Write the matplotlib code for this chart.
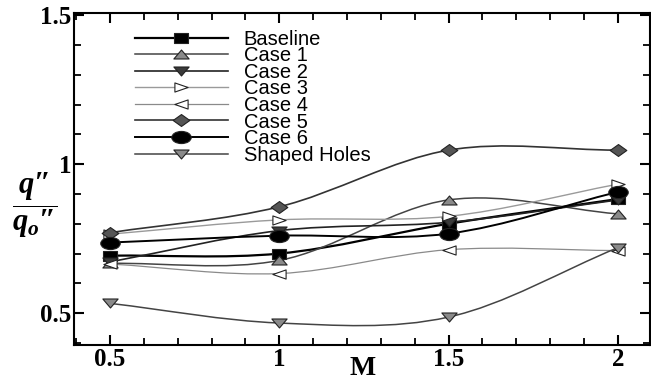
import numpy as np
import matplotlib
matplotlib.use("Agg")
import matplotlib.pyplot as plt
from matplotlib.path import Path
from matplotlib.patches import PathPatch
from matplotlib.lines import Line2D
from matplotlib.ticker import MultipleLocator

# data
M_vals = [0.5, 1.0, 1.5, 2.0]
baseline = [0.693, 0.700, 0.800, 0.883]
case1 = [0.667, 0.677, 0.880, 0.833]
case2 = [0.672, 0.777, 0.805, 0.880]
case3 = [0.765, 0.813, 0.825, 0.933]
case4 = [0.665, 0.633, 0.713, 0.710]
case5 = [0.770, 0.857, 1.047, 1.047]
case6 = [0.737, 0.760, 0.767, 0.907]
shaped = [0.533, 0.467, 0.487, 0.720]

labels = ["Baseline", "Case 1", "Case 2", "Case 3", "Case 4",
          "Case 5", "Case 6", "Shaped Holes"]
xticks = [0.5, 1, 1.5, 2]
xtick_labels = ["0.5", "1", "1.5", "2"]
yticks = [0.5, 1, 1.5]
ytick_labels = ["0.5", "1", "1.5"]

plt.rcParams['mathtext.fontset'] = 'custom'
plt.rcParams['mathtext.rm'] = 'Liberation Serif:bold'
plt.rcParams['mathtext.it'] = 'Liberation Serif:italic:bold'
plt.rcParams['mathtext.bf'] = 'Liberation Serif:bold'


# markers are a bit wider than tall in the reference
def mk(verts):
    verts = np.asarray(verts, float)
    codes = [Path.MOVETO] + [Path.LINETO] * (len(verts) - 1) + [Path.CLOSEPOLY]
    return Path(np.vstack([verts, verts[:1]]), codes)

sq = mk([(-1.3, -1), (1.3, -1), (1.3, 1), (-1.3, 1)])
tri_up = mk([(0, 1), (-1.7, -1), (1.7, -1)])
tri_dn = mk([(0, -1), (-1.7, 1), (1.7, 1)])
tri_r = mk([(1.3, 0), (-1.3, 0.9), (-1.3, -0.9)])
tri_l = mk([(-1.3, 0), (1.3, 0.9), (1.3, -0.9)])
dia = mk([(0, 1), (1.4, 0), (0, -1), (-1.4, 0)])
circ = Path(Path.unit_circle().vertices * [1.6, 1.0], Path.unit_circle().codes)

series = [baseline, case1, case2, case3, case4, case5, case6, shaped]
# (line color, line width, marker, marker size, face color)
styles = [
    ("#000000", 1.6, sq, 9.5, "#000000"),
    ("#444444", 1.1, tri_up, 11, "#8a8a8a"),
    ("#222222", 1.2, tri_dn, 11, "#3a3a3a"),
    ("#9a9a9a", 1.0, tri_r, 9.5, "#ffffff"),
    ("#8a8a8a", 0.9, tri_l, 9.5, "#ffffff"),
    ("#333333", 1.2, dia, 12, "#555555"),
    ("#000000", 1.4, circ, 14, "#000000"),
    ("#444444", 1.1, tri_dn, 11, "#8a8a8a"),
]


def smooth_path(x, y):
    # Catmull-Rom style curve through the points, as bezier segments
    x = np.asarray(x, float)
    y = np.asarray(y, float)
    n = len(x)
    d = np.zeros(n)
    d[0] = (y[1] - y[0]) / (x[1] - x[0])
    d[-1] = (y[-1] - y[-2]) / (x[-1] - x[-2])
    for i in range(1, n - 1):
        d[i] = (y[i + 1] - y[i - 1]) / (x[i + 1] - x[i - 1])
    verts = [(x[0], y[0])]
    codes = [Path.MOVETO]
    for i in range(n - 1):
        h = x[i + 1] - x[i]
        verts += [(x[i] + h / 3, y[i] + d[i] * h / 3),
                  (x[i + 1] - h / 3, y[i + 1] - d[i + 1] * h / 3),
                  (x[i + 1], y[i + 1])]
        codes += [Path.CURVE4] * 3
    return Path(verts, codes)


fig = plt.figure(figsize=(6.51, 3.83), dpi=100)
ax = fig.add_axes([0.1137, 0.099, 0.885, 0.867])

handles = []
for k, (vals, st) in enumerate(zip(series, styles)):
    col, lw, m, ms, fc = st
    ax.add_patch(PathPatch(smooth_path(M_vals, vals), fill=False,
                           edgecolor=col, lw=lw, zorder=2 + k * 0.01))
    ax.plot(M_vals, vals, ls="none", marker=m, ms=ms, mfc=fc,
            mec="#222222", mew=0.8, zorder=3 + k * 0.01)
    handles.append(Line2D([], [], color=col, lw=lw, marker=m, ms=ms,
                          mfc=fc, mec="#222222", mew=0.8))

ax.set_xlim(0.394, 2.095)
ax.set_ylim(0.393, 1.507)

ax.set_xticks(xticks)
ax.set_xticklabels(xtick_labels)
ax.set_yticks(yticks)
ax.set_yticklabels(ytick_labels)
ax.xaxis.set_minor_locator(MultipleLocator(0.1))
ax.yaxis.set_minor_locator(MultipleLocator(0.1))
ax.tick_params(which="both", direction="in", top=True, right=True, color="black")
ax.tick_params(which="major", length=7.5, width=1.5, pad=2)
ax.tick_params(which="minor", length=5, width=1.3)
for lab in ax.get_xticklabels() + ax.get_yticklabels():
    lab.set_fontfamily("Liberation Serif")
    lab.set_fontweight("bold")
    lab.set_fontsize(18)
for sp in ax.spines.values():
    sp.set_linewidth(1.5)

ax.set_xlabel("M", fontfamily="Liberation Serif", fontweight="bold",
              fontsize=20, labelpad=-11)
ax.set_ylabel(r"$\dfrac{q″}{q_o″}$", fontsize=22, rotation=0,
              va="center", ha="center")
ax.yaxis.set_label_coords(-0.068, 0.42)

leg = ax.legend(handles, labels, loc="upper left", bbox_to_anchor=(0.106, 0.95),
                frameon=False, borderpad=0, borderaxespad=0,
                handlelength=4.6, handletextpad=0.8, labelspacing=-0.12,
                prop={"family": "Liberation Sans", "size": 14.5})

fig.savefig("out.png", dpi=100)
